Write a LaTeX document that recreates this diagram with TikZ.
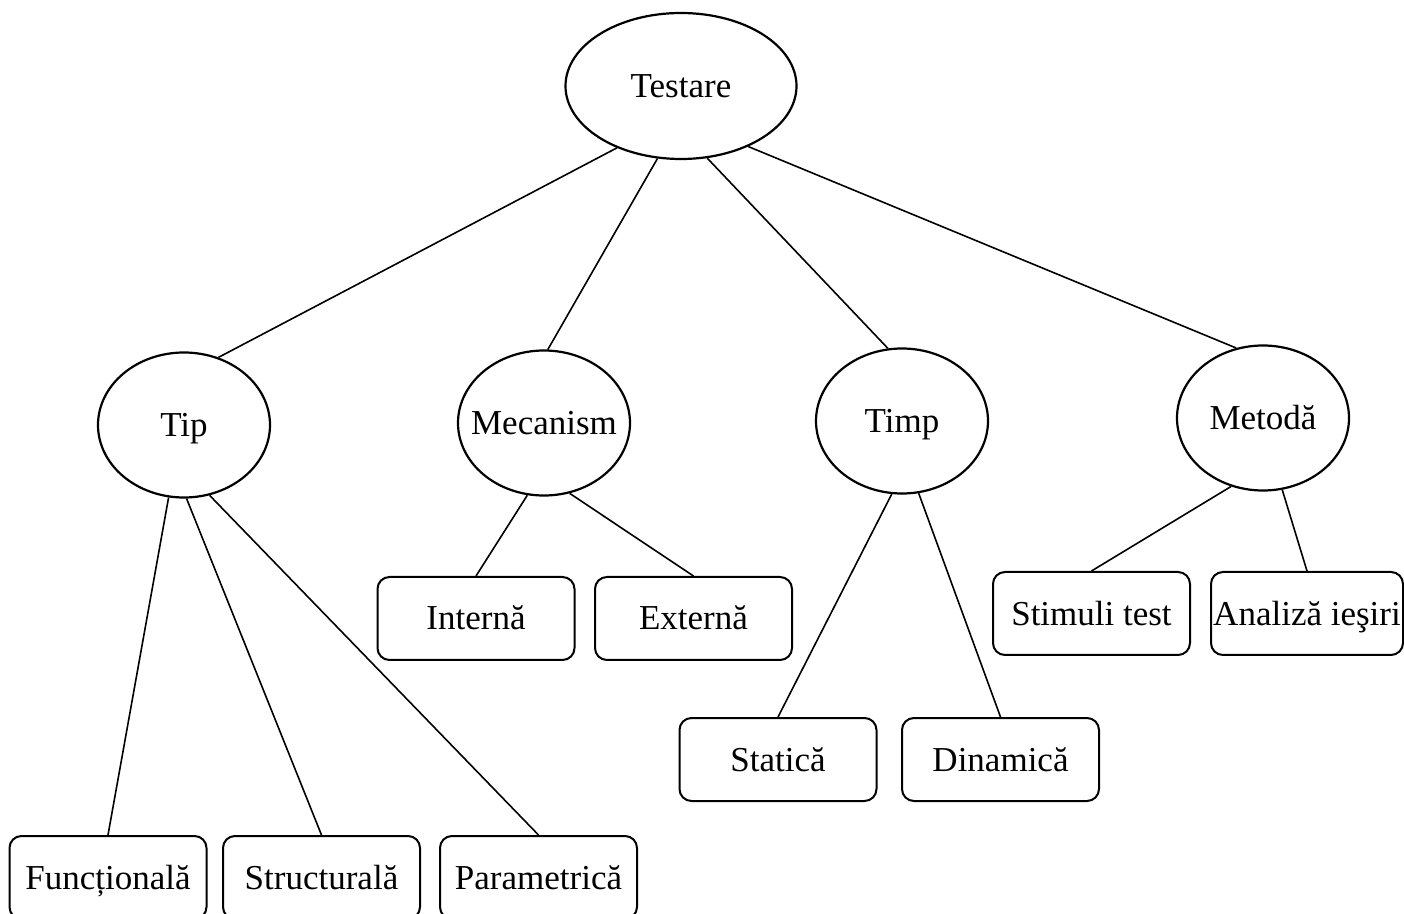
\documentclass[tikz,border=0pt]{standalone}
\usepackage{fontspec}
\setmainfont{Liberation Serif}
\usetikzlibrary{shapes.geometric}
\newcommand{\zw}[1]{\makebox[0pt]{#1}}
\begin{document}
\begin{tikzpicture}[x=0.5pt,y=-0.5pt,
  lbl/.style={font=\fontsize{17.5}{20}\selectfont,text height=13.5pt,text depth=2pt},
  ell/.style={lbl,ellipse,draw,line width=1.1pt,inner sep=0pt,minimum width=86pt,minimum height=72.5pt},
  box/.style={lbl,rectangle,rounded corners=6pt,draw,line width=1pt,minimum width=98.5pt,minimum height=41.5pt,inner sep=0pt},
  conn/.style={line width=0.8pt}]
\useasboundingbox (0,0) rectangle (1404,914);
% ellipses
\node[ell,minimum width=115.5pt,minimum height=73pt] (testare) at (681,86) {\zw{Testare}};
\node[ell] (tip) at (184,425) {\zw{Tip}};
\node[ell] (mec) at (544,423) {\zw{Mecanism}};
\node[ell] (timp) at (902,421) {\zw{Timp}};
\node[ell] (met) at (1263,418) {\zw{Metodă}};
% boxes
\node[box] (int) at (476,618.5) {\zw{Internă}};
\node[box] (ext) at (693.5,618.5) {\zw{Externă}};
\node[box] (stim) at (1091.5,613.5) {\zw{Stimuli test}};
\node[box,minimum width=96pt] (anal) at (1307,613.5) {\zw{Analiză ieşiri}};
\node[box] (stat) at (778,759.5) {\zw{Statică}};
\node[box] (din) at (1000.5,759.5) {\zw{Dinamică}};
\node[box] (func) at (108,877.5) {\zw{Funcțională}};
\node[box] (struct) at (321.5,877.5) {\zw{Structurală}};
\node[box] (param) at (538.5,877.5) {\zw{Parametrică}};
% connectors
\draw[conn] (testare.224) -- (tip.63);
\draw[conn] (testare.252.5) -- (mec.87.6);
\draw[conn] (testare.290.3) -- (timp.101.9);
\draw[conn] (testare.318.5) -- (met.111.5);
\draw[conn] (tip.258.2) -- (func.north);
\draw[conn] (tip.272.3) -- (struct.north);
\draw[conn] (tip.290.6) -- (param.north);
\draw[conn] (mec.257.6) -- (int.north);
\draw[conn] (mec.290.1) -- (ext.north);
\draw[conn] (timp.262.2) -- (stat.north);
\draw[conn] (timp.283.9) -- (din.north);
\draw[conn] (met.245.8) -- (stim.north);
\draw[conn] (met.285.2) -- (anal.north);
\end{tikzpicture}
\end{document}
